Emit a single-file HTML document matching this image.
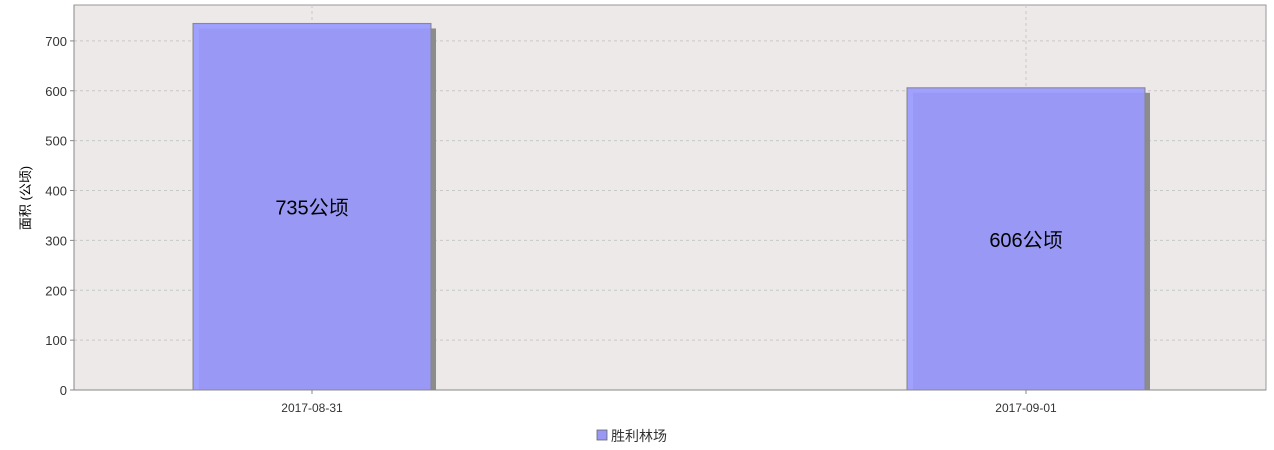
<!DOCTYPE html>
<html><head><meta charset="utf-8">
<style>
body{margin:0;background:#fff;}
svg{display:block;font-family:"Liberation Sans","Noto Sans CJK SC",sans-serif;}
</style></head>
<body>
<svg id="chart" width="1274" height="450" xmlns="http://www.w3.org/2000/svg">
<rect x="74" y="5" width="1192" height="385" fill="#ede9e8" stroke="#999" stroke-width="1"/>
<g id="grid"></g>
<g id="bars"></g>
<g id="axes"></g>
<text transform="translate(30,198) rotate(-90)" text-anchor="middle" font-size="13" fill="#000">面积 (公顷)</text>
<g>
<rect x="597" y="430" width="10" height="10" fill="#9999f5" stroke="#666" stroke-width="0.8"/>
<text x="611" y="441" font-size="14" fill="#333">胜利林场</text>
</g>
</svg>
<script>
const categories = ["2017-08-31","2017-09-01"];
const values = [735, 606];
const yTicks = [0,100,200,300,400,500,600,700];
const labelSuffix = "公顷";

const NS="http://www.w3.org/2000/svg";
const L=74,R=1266,T=5,B=390;
const yMax=772;
function y(v){return B-(v/yMax)*(B-T);}
const step=714, bw=238;
function xc(i){return L+238+i*step;}
function mk(tag,attrs,parent){const e=document.createElementNS(NS,tag);for(const k in attrs)e.setAttribute(k,attrs[k]);parent.appendChild(e);return e;}
const grid=document.getElementById('grid'),bars=document.getElementById('bars'),axes=document.getElementById('axes');
yTicks.forEach(t=>{
  const g=mk('line',{x1:L,x2:R,y1:y(t),y2:y(t),stroke:'#c8c8c8','stroke-dasharray':'3,3'},grid);
  
  
  mk('line',{x1:L-4,x2:L,y1:y(t),y2:y(t),stroke:'#888'},axes);
  const tx=mk('text',{x:L-7,y:y(t)+5,'text-anchor':'end','font-size':'13',fill:'#333'},axes);
  tx.textContent=t;
  
  
});
categories.forEach((c,i)=>{
  const cx=xc(i);
  const g=mk('line',{x1:cx,x2:cx,y1:T,y2:B,stroke:'#c8c8c8','stroke-dasharray':'3,3'},grid);
  
  
  const top=y(values[i]);
  const sh=mk('rect',{x:cx-bw/2+5,y:top+5,width:bw,height:B-top-5,fill:'#8c8c8c'},bars);
  
  
  const r=mk('rect',{x:cx-bw/2,y:top,width:bw,height:B-top,fill:'#9999f5',stroke:'#888','stroke-width':'1'},bars);
  
  
  mk('rect',{x:cx-bw/2+1,y:top+1,width:5,height:B-top-1,fill:'#a0a0ff'},bars);
  mk('rect',{x:cx-bw/2+1,y:top+1,width:bw-2,height:4,fill:'#a0a0ff'},bars);
  const lb=mk('text',{x:cx,y:(top+B)/2+8,'text-anchor':'middle','font-size':'20',fill:'#000'},bars);
  lb.textContent=values[i]+labelSuffix;
  
  
  mk('line',{x1:cx,x2:cx,y1:B,y2:B+4,stroke:'#888'},axes);
  const xl=mk('text',{x:cx,y:B+22,'text-anchor':'middle','font-size':'12',fill:'#333'},axes);
  xl.textContent=c;
  
  
});
mk('line',{x1:L,x2:R,y1:B,y2:B,stroke:'#888'},axes);
mk('line',{x1:L,x2:L,y1:T,y2:B,stroke:'#888'},axes);
</script>
</body></html>
